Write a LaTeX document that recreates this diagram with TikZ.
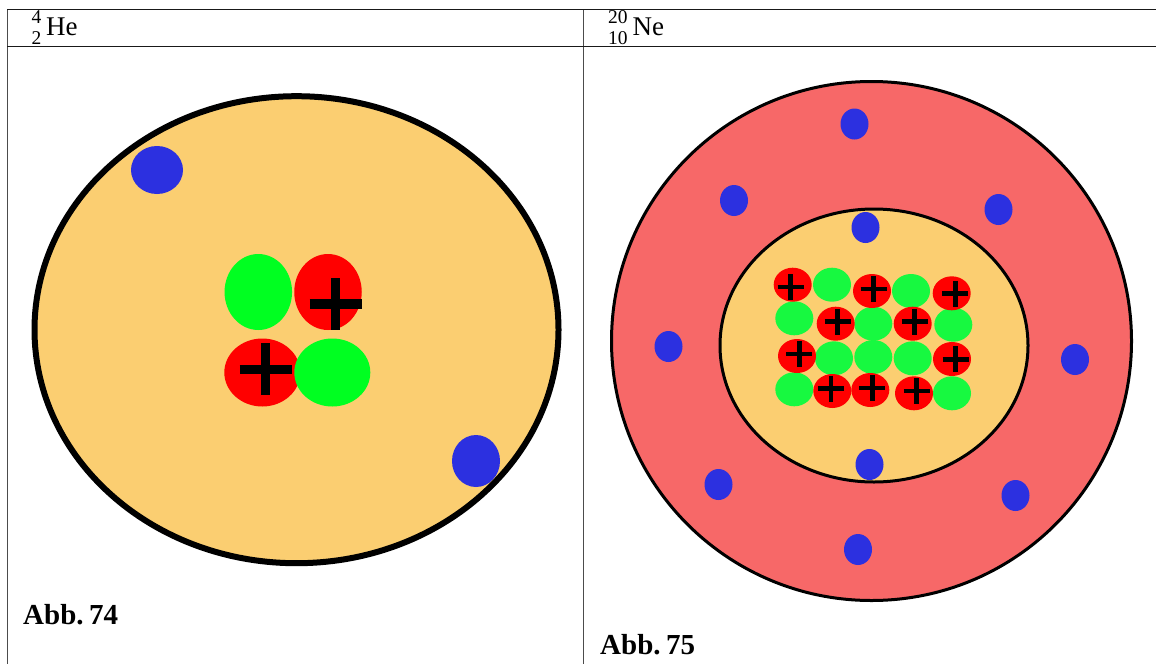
\documentclass[tikz,border=0pt]{standalone}
\usepackage{fontspec}
\setmainfont{Liberation Serif}
\usetikzlibrary{shapes.geometric}
\definecolor{peach}{HTML}{FBCE71}
\definecolor{shell}{HTML}{F76868}
\definecolor{electron}{HTML}{2C30E0}
\definecolor{protonred}{HTML}{FF0000}
\definecolor{neutronA}{HTML}{00FF21}
\definecolor{neutronB}{HTML}{17F940}
\tikzset{
  x=1pt, y=-1pt,
  rule/.style={draw=black!90, line width=1.2pt},
  siderule/.style={draw=black!70, line width=1.1pt},
  orb/.style={ellipse, inner sep=0pt, outer sep=0pt},
  electronA/.style={orb, fill=electron},
  electronB/.style={orb, fill=electron, minimum width=28pt, minimum height=31pt},
  protonA/.style={orb, fill=protonred},
  neutA/.style={orb, fill=neutronA},
  protonB/.style={orb, fill=protonred, minimum width=38pt, minimum height=34pt},
  neutB/.style={orb, fill=neutronB, minimum width=38pt, minimum height=34pt},
  symbol/.style={inner sep=0pt, anchor=base west, font=\fontsize{27}{30}\selectfont},
  index/.style={inner sep=0pt, anchor=base west, font=\fontsize{19.5}{22}\selectfont},
  caption/.style={inner sep=0pt, anchor=base west, font=\fontsize{29}{32}\selectfont\bfseries},
  barsA/.style={line width=9.3pt, black},
  barsB/.style={line width=4.6pt, black}
}
\begin{document}
\begin{tikzpicture}
\useasboundingbox (0,0) rectangle (1156,664);
\fill[white] (0,0) rectangle (1156,664);

% Table frame with its header row
\draw[siderule] (7.5,9.5) -- (7.5,664);
\draw[siderule] (583.5,9.5) -- (583.5,664);
\draw[rule] (7,9.5) -- (1156,9.5);
\draw[rule] (7,46.5) -- (1156,46.5);

% Header labels
\node[index]  (heA) at (31.5,23.5) {4};
\node[index]  (heZ) at (31.5,44) {2};
\node[symbol] (he)  at (46,35.7) {He};
\node[index]  (neA) at (608,23.5) {20};
\node[index]  (neZ) at (608,44) {10};
\node[symbol] (ne)  at (632.5,35.7) {Ne};

% Helium atom
\node[orb, fill=peach, draw=black, line width=6pt, minimum width=524pt, minimum height=467pt] (heAtom) at (296.5,329.7) {};
\node[electronA, minimum width=52pt, minimum height=48pt] (heE1) at (157,170) {};
\node[electronA, minimum width=48pt, minimum height=52pt] (heE2) at (476,461) {};
\node[neutA, minimum width=67.5pt, minimum height=76pt] (heN1) at (258.3,292) {};
\node[protonA, minimum width=67.5pt, minimum height=76pt] (heP1) at (328,292) {};
\node[protonA, minimum width=76pt, minimum height=68pt] (heP2) at (262.3,372.5) {};
\node[neutA, minimum width=76pt, minimum height=68pt] (heN2) at (332.3,372.5) {};
\foreach \cx/\cy in {335.5/304, 265.5/369.3} {
  \draw[barsA] (\cx-26,\cy) -- (\cx+26,\cy);
  \draw[barsA] (\cx,\cy-26) -- (\cx,\cy+26);
}

% Neon atom: outer shell, inner shell
\node[orb, fill=shell, draw=black, line width=3pt, minimum width=520pt, minimum height=519pt] (neOuter) at (871.5,341) {};
\node[orb, fill=peach, draw=black, line width=3pt, minimum width=308pt, minimum height=273pt] (neInner) at (874,345.5) {};

% Neon electrons
\foreach \ex/\ey [count=\i] in {854.5/124, 734/200.5, 998.5/209.5, 865.5/227.5, 668.5/346.5, 1075/359.5, 718.5/484.5, 869.5/464.5, 1015.5/495.5, 858/549.5}
  \node[electronB] (neE\i) at (\ex,\ey) {};

% Neon nucleus
\foreach \nx/\ny [count=\i] in {832/284.7, 911/291, 794.3/318.3, 873.3/323.7, 953.3/324.7, 834/358.3, 873.3/357, 912.7/358.3, 794.3/389.3, 952/393.3}
  \node[neutB] (neN\i) at (\nx,\ny) {};
\foreach \px/\py [count=\i] in {792.7/284.7, 872/291, 951.7/293.3, 835.7/323.7, 912.7/323.7, 797/356, 952/359, 832.3/391, 870.3/390, 914/393.3}
  \node[protonB] (neP\i) at (\px,\py) {};
\foreach \cx/\cy in {790.7/287, 873.7/289, 955.3/293.7, 837.7/321.7, 914.7/321.7, 799.3/354, 955.7/359.3, 831/388.7, 872.3/388, 916.7/391} {
  \draw[barsB] (\cx-13,\cy) -- (\cx+13,\cy);
  \draw[barsB] (\cx,\cy-13) -- (\cx,\cy+13);
}

% Figure captions
\node[caption] (capA) at (23,624) {Abb.\hspace{.19em}74};
\node[caption] (capB) at (600,654) {Abb.\hspace{.19em}75};
\end{tikzpicture}
\end{document}
